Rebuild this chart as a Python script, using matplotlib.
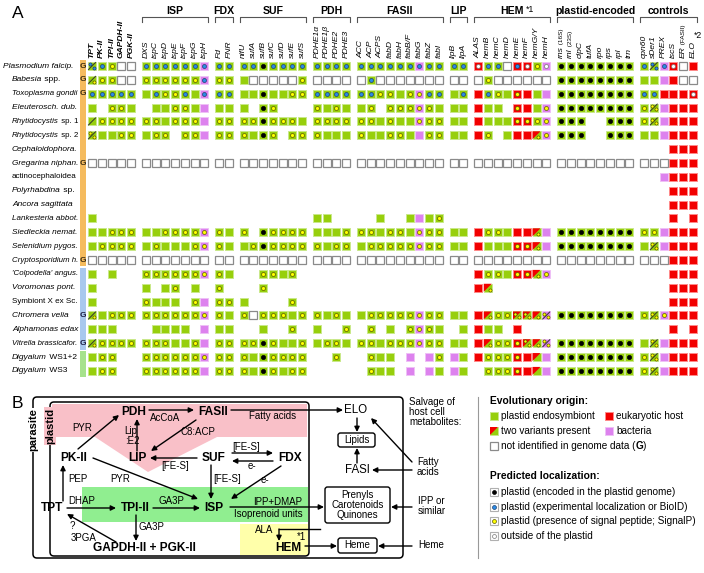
import matplotlib.pyplot as plt
from matplotlib.patches import Rectangle, Polygon, FancyBboxPatch

plt.rcParams['font.family'] = ['Liberation Sans', 'DejaVu Sans']

# ---------------- data (panel A) ----------------
# species label pieces: (text, italic?)
species = [
    [('Plasmodium falcip.', True)],
    [('Babesia', True), (' spp.', False)],
    [('Toxoplasma gondii', True)],
    [('Eleuterosch. dub.', True)],
    [('Rhytidocystis', True), (' sp. 1', False)],
    [('Rhytidocystis', True), (' sp. 2', False)],
    [('Cephaloidophora.', True)],
    [('Gregarina niphan.', True)],
    [('actinocephaloidea', False)],
    [('Polyrhabdina', True), (' sp.', False)],
    [('Ancora sagittata', True)],
    [('Lankesteria abbot.', True)],
    [('Siedleckia nemat.', True)],
    [('Selenidium pygos.', True)],
    [('Cryptosporidium h.', True)],
    [("'Colpodella' angus.", True)],
    [('Voromonas pont.', True)],
    [('Symbiont X ex Sc.', False)],
    [('Chromera velia', True)],
    [('Alphamonas edax', True)],
    [('Vitrella brassicafor.', True)],
    [('Digyalum', True), (' WS1+2', False)],
    [('Digyalum', True), (' WS3', False)],
]
genome = [1, 1, 1, 0, 0, 0, 0, 1, 0, 0, 0, 0, 0, 0, 1, 0, 0, 0, 1, 0, 1, 0, 0]
clade = ['a'] * 15 + ['c'] * 6 + ['s'] * 2

group_names = ['', 'ISP', 'FDX', 'SUF', 'PDH', 'FASII', 'LIP', 'HEM', 'plastid-encoded', 'controls']
genes = [
    ['TPT', 'PK-II', 'TPI-II', 'GAPDH-II', 'PGK-II'],
    ['DXS', 'ispC', 'ispD', 'ispE', 'ispF', 'ispG', 'ispH'],
    ['Fd', 'FNR'],
    ['nifU', 'sufA', 'sufB', 'sufC', 'sufD', 'sufE', 'sufS'],
    ['PDHE1\u03b1', 'PDHE1\u03b2', 'PDHE2', 'PDHE3'],
    ['ACC', 'ACP', 'ACPS', 'fabD', 'fabH', 'fabB/F', 'fabG', 'fabZ', 'fabI'],
    ['lipB', 'lipA'],
    ['ALAS', 'hemB', 'hemC', 'hemD', 'hemE', 'hemF', 'hemG/Y', 'hemH'],
    ['rns', 'rnl', 'clpC', 'tufA', 'rpo', 'rps', 'rpl', 'trn'],
    ['cpn60', 'sDer1', 'PREX', 'iscS', 'ER', 'ELO'],
]
# small suffix drawn after some gene names
gene_suffix = {'rns': ' (16S)', 'rnl': ' (23S)', 'ER': ' (FASII)'}

# cell codes: fill (g plastid, r host, p bacteria, e not found, s two variants, - none)
# + mark (. none, k black, b blue, y yellow, w white, Y/B two copies, L slash+dot, / slash)
rows = [
    "gB gb gy e. e. | gb gb gb gb gb gb pb | gb gb | gb gb gk gb gb gb gb | gb gb gb gb | gb gb gb gb gb gb pb gb gb | gb gb | rw gb gb e. rb rw gy pw | gk gk gk gk gk gk gk gk | gb gB pb rw e. r.",
    "gL gy gy e. e. | gy gy gy gy gy gy pb | gy gy | g. e. e. e. e. e. gy | e. e. e. e. | e. gb e. e. e. e. e. e. e. | e. e. | e. gy e. e. e. e. e. e. | gk gk gk gk gk gk gk gk | g. g. p. r. e. e.",
    "gb gb gb gb gb | g. gb gy gy gb g. pb | gb gb | g. g. gk g. g. gy gy | gb gb gb gb | gb gb gy gy g. gy py gb gb | g. gb | r. gb gy g. ry r. g. p. | gk gk gk gk gk gk gk gk | gb gb r. r. r. rw",
    "g. -- gy gy g. | -- g. g. gy gy g. p. | g. g. | g. -- gk gy -- -- -- | gy g. gy g. | g. gy -- gy gy gy py gy g. | g. g. | r. g. g. -- ry r. g. py | gk gk gk gk gk gk gk gk | gy gY p. r. r. r.",
    "g/ gy gy gy gy | gy gy g. gy gy gy p. | gy gy | gy gy gk gy gy gy g. | gy gy gy gy | gy gy g. gy g. g. py gy gy | g. g. | r. g. g. g. ry ry gy py | gk gk gk -- -- gk gk gk | gy gY p. r. r. r.",
    "gY g. g. gy gy | g. gy gy -- gy gy p. | gy gy | gy g. gk gy -- gy gy | gy g. g. g. | gy g. g. gy gy g. p. gy gy | g. g. | r. gy -- g. r. r. sy py | gk gk gk -- -- gk gk gk | g. g. p. r. r. r.",
    "-- -- -- -- -- | -- -- -- -- -- -- -- | -- -- | -- -- -- -- -- -- -- | -- -- -- -- | -- -- -- -- -- -- -- -- -- | -- -- | -- -- -- -- -- -- -- -- | -- -- -- -- -- -- -- -- | -- -- -- r. r. r.",
    "e. e. e. e. e. | e. e. e. e. e. e. e. | e. e. | e. e. e. e. e. e. e. | e. e. e. e. | e. e. e. e. e. e. e. e. e. | e. e. | e. e. e. e. e. e. e. e. | e. e. e. e. e. e. e. e. | e. e. e. r. r. r.",
    "-- -- -- -- -- | -- -- -- -- -- -- -- | -- -- | -- -- -- -- -- -- -- | -- -- -- -- | -- -- -- -- -- -- -- -- -- | -- -- | -- -- -- -- -- -- -- -- | -- -- -- -- -- -- -- -- | -- -- p. r. r. r.",
    "-- -- -- -- -- | -- -- -- -- -- -- -- | -- -- | -- -- -- -- -- -- -- | -- -- -- -- | -- -- -- -- -- -- -- -- -- | -- -- | -- -- -- -- -- -- -- -- | -- -- -- -- -- -- -- -- | -- -- -- r. r. r.",
    "-- -- -- -- -- | -- -- -- -- -- -- -- | -- -- | -- -- -- -- -- -- -- | -- -- -- -- | -- -- -- -- -- -- -- -- -- | -- -- | -- -- -- -- -- -- -- -- | -- -- -- -- -- -- -- -- | -- -- -- r. r. r.",
    "g. -- -- -- -- | -- -- -- -- -- -- -- | -- -- | -- -- -- -- -- -- -- | g. g. -- -- | -- -- g. -- -- g. p. g. gy | -- -- | -- -- -- -- -- -- -- -- | -- -- -- -- -- -- -- -- | -- -- -- r. -- r.",
    "g. g. gy gy gy | g. g. gy gy gy gy py | gy g. | gy -- gk gy gy gy gy | g. g. g. gy | gy gy g. gy gy g. py gy gy | g. g. | r. gy gy g. r. r. sy p. | gk gk gk gk gk gk gk gk | gy gy p. r. r. r.",
    "g. gy gy gy gy | g. gy g. g. g. gy py | gy g. | g. gy gk gy gy gy gy | gy g. gy gy | g. gy gy gy gy gy py gy gy | g. g. | r. g. g. g. ry ry sy p. | gk gk gk gk gk gk gk gk | g. gY p. r. r. r.",
    "e. e. e. e. e. | e. e. e. e. e. e. e. | e. e. | e. e. e. e. e. e. e. | e. e. e. e. | e. e. e. e. e. e. e. e. e. | e. e. | e. e. e. e. e. e. e. e. | e. e. e. e. e. e. e. e. | e. e. e. r. r. r.",
    "g. -- g. -- -- | gy gy gy gy gy gy py | gy g. | -- -- gy gy g. gy -- | -- -- -- -- | -- -- -- -- -- -- -- -- -- | -- -- | r. gy gy g. ry ry sy py | -- -- -- -- -- -- -- -- | -- -- -- r. r. r.",
    "g. -- -- -- -- | g. -- g. gy -- g. -- | gy -- | -- -- gy -- -- -- -- | -- -- -- -- | -- -- -- -- -- -- -- -- -- | -- -- | r. sy -- -- -- -- -- -- | -- -- -- -- -- -- -- -- | -- -- -- r. r. r.",
    "g. -- -- -- -- | gy g. g. g. -- gy p. | gy gy | g. -- -- -- -- gy -- | -- -- -- -- | -- -- -- -- -- -- -- -- -- | -- -- | -- -- -- -- -- -- -- -- | -- -- -- -- -- -- -- -- | -- -- -- r. r. r.",
    "gL g. gy gy gy | gy gy gy gy gy gy py | gy g. | gy e. gy gy gy g. gy | gy g. gy g. | g. gy gy gy gy gy py gy gy | g. g. | r. sy gy gy sY sY sy pY | gk gk gk gk gk gk gk gk | gy gY py r. r. r.",
    "g. g. g. -- -- | -- g. g. g. g. -- p. | g. g. | -- -- g. -- -- gy -- | g. -- -- gy | -- gy -- g. -- gy py gy g. | -- g. | r. g. g. -- r. -- -- -- | -- -- -- -- -- -- -- -- | -- -- -- r. -- r.",
    "gL gy gy gy gy | gy gy gy g. g. gy p. | gy gy | gy gy gk gy g. g. gy | g. gy gy g. | gy gy g. gy gy gy py gy gy | g. g. | r. sy gy gy ry sY sy pY | gk gk gk gk gk gk gk gk | g. gY p. r. r. r.",
    "g. gy gy -- -- | gy gy gy gy gy gy py | gy gy | gy g. gk gy gy gy gy | -- -- gy -- | -- gy g. g. -- p. -- p. gy | p. g. | r. gy gy gy ry r. s. p. | gk gk gk gk gk gk gk gk | gy gY p. r. r. r.",
    "g. gy gy -- -- | gy gy gy gy gy gy p. | gy gy | gy g. gk gy g. gy gy | -- -- -- -- | -- gy g. g. -- p. -- p. g. | p. g. | -- gy gy gy ry r. s. p. | gk gk gk gk gk gk gk gk | gy gY p. r. r. r.",
]

# ---------------- colours ----------------
GREEN, GREEN_E = '#97cf0c', '#c9e98a'
RED, RED_E = '#f20000', '#ff8a8a'
PURPLE, PURPLE_E = '#dd82ee', '#efc0f6'
DOTS = {'k': ('black', 'black'), 'b': ('#2a8ce8', '#1f3f6a'),
        'y': ('#ffff00', '#5a5a00'), 'w': ('white', '#777777')}
BAR = {'a': '#f5bb5e', 'c': '#a9c8ee', 's': '#a6e28c'}

fig = plt.figure(figsize=(7.04, 5.73), dpi=100)
ax = fig.add_axes([0, 0, 1, 1])
ax.set_xlim(0, 704)
ax.set_ylim(573, 0)
ax.axis('off')
renderer = fig.canvas.get_renderer()

# column / row positions
col_x, col_grp = [], []
k = 0
for gi, g in enumerate(genes):
    for _ in g:
        col_x.append(92 + k * 9.75 + gi * 5)
        col_grp.append(gi)
        k += 1
row_y = [66 + j * 13.86 for j in range(len(rows))]
H = 4


def dot(x, y, c, s=7):
    fc, ec = DOTS[c]
    ax.scatter([x], [y], s=s, c=fc, edgecolors=ec, linewidths=0.5, zorder=6)


def draw_cell(x, y, code):
    fill, mark = code[0], code[1]
    if fill == '-':
        return
    if fill == 'e':
        ax.add_patch(Rectangle((x - H, y - H), 2 * H, 2 * H, fc='white', ec='#8a8a8a', lw=0.9, zorder=3))
    else:
        fc, ec = {'g': (GREEN, GREEN_E), 'r': (RED, RED_E), 'p': (PURPLE, PURPLE_E),
                  's': (GREEN, GREEN_E)}[fill]
        ax.add_patch(Rectangle((x - H, y - H), 2 * H, 2 * H, fc=fc, ec=ec, lw=0.7, zorder=3))
        if fill == 's':
            ax.add_patch(Polygon([(x - H, y - H), (x + H, y - H), (x - H, y + H)], closed=True,
                                 fc=RED, ec='none', zorder=4))
    if mark in 'kbyw' and mark != '.':
        if fill == 's':
            dot(x + 1.8, y + 1.8, mark, 5)
        else:
            dot(x, y, mark, 9 if mark == 'k' else 8)
    elif mark in 'YBL/':
        if fill != 's':
            ax.plot([x - H + 0.5, x + H - 0.5], [y + H - 0.5, y - H + 0.5], color='#333333', lw=0.7, zorder=5)
        c = 'b' if mark == 'B' else 'y'
        if mark in 'YB':
            dot(x - 1.9, y - 1.9, c, 5)
            dot(x + 1.9, y + 1.9, c, 5)
        elif mark == 'L':
            dot(x + 1.9, y + 1.9, c, 5)


def text_run(x, y, parts, rot=0, **kw):
    # draws text parts one after another (left to right, or upwards when rotated)
    made = []
    for s, props in parts:
        if rot == 0:
            t = ax.text(x, y, s, ha='left', va='center', **props, **kw)
            x += t.get_window_extent(renderer).width
        else:
            t = ax.text(x, y, s, ha='center', va='bottom', rotation=90, **props, **kw)
            y -= t.get_window_extent(renderer).height
        made.append(t)
    return x, y, made


# ---- panel A ----
ax.text(12, 14, 'A', fontsize=12.5, va='center', ha='left')

# species names (shrunk if they would run into the bar)
for j, parts in enumerate(species):
    x0 = 3 if j == 0 else 12
    fs = 6.0
    xe, _, made = text_run(x0, row_y[j], [(s, dict(fontsize=fs, style='italic' if it else 'normal')) for s, it in parts])
    if xe > 78:
        for t in made:
            t.remove()
        fs = fs * (78 - x0) / (xe - x0)
        text_run(x0, row_y[j], [(s, dict(fontsize=fs, style='italic' if it else 'normal')) for s, it in parts])

# coloured clade bar with G markers
j = 0
while j < len(clade):
    j2 = j
    while j2 + 1 < len(clade) and clade[j2 + 1] == clade[j]:
        j2 += 1
    ax.add_patch(Rectangle((80, row_y[j] - 6.3), 6, row_y[j2] - row_y[j] + 12.6,
                           fc=BAR[clade[j]], ec='none', zorder=2))
    j = j2 + 1
for j, gflag in enumerate(genome):
    if gflag:
        ax.text(83, row_y[j], 'G', fontsize=6, fontweight='bold', ha='center', va='center',
                color='#1a1a40' if clade[j] == 'c' else '#3a2a10', zorder=5)

# cells
for j, r in enumerate(rows):
    codes = r.replace('|', ' ').split()
    for i, code in enumerate(codes):
        draw_cell(col_x[i], row_y[j], code)

# column headers
k = 0
for gi, g in enumerate(genes):
    for name in g:
        props = dict(fontsize=6.1, style='italic')
        if gi == 0:
            props['fontweight'] = 'bold'
        parts = [(name, props)]
        if name in gene_suffix:
            parts.append((gene_suffix[name], dict(fontsize=4.6)))
        xe, ye, _ = text_run(col_x[k], 57.5, parts, rot=90)
        if name == 'ELO':
            ax.text(col_x[k] + 5, ye - 1, '*2', fontsize=6.3, ha='center', va='bottom', rotation=0)
        k += 1

# group brackets
for gi, gname in enumerate(group_names):
    if not gname:
        continue
    xs = [col_x[i] for i in range(len(col_x)) if col_grp[i] == gi]
    x1, x2 = xs[0] - 4, xs[-1] + 4
    ax.plot([x1, x1, x2, x2], [21.5, 17, 17, 21.5], color='#555555', lw=0.8)
    t = ax.text((x1 + x2) / 2, 10.5, gname, fontsize=7.6, fontweight='bold', ha='center', va='center')
    if gname == 'HEM':
        bb = t.get_window_extent(renderer)
        ax.text(bb.x1 + 2, 9, '*1', fontsize=6.3, ha='left', va='center')

# ---- panel B ----
ax.text(12, 404, 'B', fontsize=12.5, va='center', ha='left')

# shaded regions
ax.add_patch(Polygon([(52, 404), (307, 404), (307, 437), (217, 437), (148, 472), (95, 437), (52, 437)],
                     closed=True, fc='#f9c0c8', ec='none', zorder=1))
ax.add_patch(Rectangle((82, 487), 226, 35, fc='#90ee90', ec='none', zorder=1))
ax.add_patch(Rectangle((240, 524), 68, 31, fc='#ffffaa', ec='none', zorder=1))

# compartments
ax.add_patch(FancyBboxPatch((33, 397), 370, 161, boxstyle='round,pad=0,rounding_size=4',
                            fc='none', ec='black', lw=1.1, zorder=2))
ax.add_patch(FancyBboxPatch((50, 402), 259, 154, boxstyle='round,pad=0,rounding_size=4',
                            fc='none', ec='black', lw=1.1, zorder=2))
ax.text(33, 430, 'parasite', rotation=90, fontsize=8, fontweight='bold', ha='center', va='center',
        bbox=dict(fc='white', ec='none', pad=0.6), zorder=3)
ax.text(50, 426, 'plastid', rotation=90, fontsize=8, fontweight='bold', ha='center', va='center',
        bbox=dict(fc='#f9c0c8', ec='none', pad=0.6), zorder=3)

bold_nodes = [('PDH', 134, 412), ('FASII', 213, 412), ('PK-II', 74, 458), ('LIP', 137, 458),
              ('SUF', 214, 458), ('FDX', 290, 458), ('TPT', 52, 508), ('TPI-II', 135, 508),
              ('ISP', 214, 508), ('GAPDH-II + PGK-II', 144, 548), ('HEM', 288, 548)]
for s, x, y in bold_nodes:
    ax.text(x, y, s, fontsize=8.6, fontweight='bold', ha='center', va='center', zorder=4)

small_labels = [('AcCoA', 165, 418), ('C8:ACP', 198, 432), ('Lip', 131, 431), (':E2', 132, 441),
                ('PYR', 82, 428), ('Fatty acids', 273, 416), ('[FE-S]', 246, 447), ('[FE-S]', 175, 466),
                ('e-', 252, 466), ('PEP', 78, 479), ('PYR', 120, 479), ('[FE-S]', 227, 479),
                ('e-', 265, 480), ('DHAP', 82, 501), ('GA3P', 171, 501), ('IPP+DMAP', 278, 502),
                ('Isoprenoid units', 268, 514), ('?', 72, 526), ('3PGA', 84, 538), ('GA3P', 151, 527),
                ('ALA', 264, 530), ('*1', 301, 537)]
for s, x, y in small_labels:
    ax.text(x, y, s, fontsize=7, ha='center', va='center', zorder=4)

ax.text(356, 410, 'ELO', fontsize=8.3, ha='center', va='center')
ax.text(357, 470, 'FASI', fontsize=8.3, ha='center', va='center')

boxes = [('Lipids', 338, 433, 37, 14), ('Prenyls\nCarotenoids\nQuinones', 325, 487, 65, 36),
         ('Heme', 338, 538, 39, 15)]
for s, x, y, w, h in boxes:
    ax.add_patch(FancyBboxPatch((x, y), w, h, boxstyle='round,pad=0,rounding_size=2.5',
                                fc='white', ec='black', lw=1, zorder=3))
    ax.text(x + w / 2, y + h / 2, s, fontsize=7, ha='center', va='center', linespacing=1.05, zorder=4)

ax.text(409, 397, 'Salvage of\nhost cell\nmetabolites:', fontsize=7, ha='left', va='top', linespacing=1.0)
ax.text(417, 467, 'Fatty\nacids', fontsize=7, ha='left', va='center', linespacing=1.0)
ax.text(418, 506, 'IPP or\nsimilar', fontsize=7, ha='left', va='center', linespacing=1.0)
ax.text(418, 545, 'Heme', fontsize=7, ha='left', va='center')

arrows = [((78, 449), (119, 415)), ((149, 410), (194, 410)), ((231, 410), (343, 410)),
          ((137, 451), (137, 419)), ((196, 420), (151, 451)), ((197, 458), (150, 458)),
          ((232, 453), (273, 453)), ((273, 461), (232, 461)), ((63, 501), (63, 465)),
          ((93, 458), (198, 499)), ((211, 465), (211, 499)), ((281, 466), (231, 499)),
          ((67, 508), (116, 508)), ((153, 508), (200, 508)), ((230, 507), (324, 507)),
          ((136, 515), (136, 541)), ((116, 542), (67, 514)), ((279, 529), (279, 541)),
          ((305, 546), (337, 546)), ((357, 418), (357, 432)), ((357, 463), (357, 448)),
          ((412, 462), (371, 418)), ((412, 470), (372, 470)), ((412, 507), (391, 507)),
          ((412, 546), (378, 546))]
for a, b in arrows:
    ax.annotate('', xy=b, xytext=a, zorder=5,
                arrowprops=dict(arrowstyle='-|>', color='black', lw=1, mutation_scale=7.5,
                                shrinkA=0, shrinkB=0))
ax.plot([320, 279], [529, 529], color='black', lw=1, zorder=5)

# ---- legend ----
ax.plot([478, 478], [397, 558], color='#999999', lw=0.8)
ax.text(490, 401, 'Evolutionary origin:', fontsize=7.4, fontweight='bold', ha='left', va='center')
legend_origin = [('g.', 494, 416, 'plastid endosymbiont'), ('r.', 609, 416, 'eukaryotic host'),
                 ('s.', 494, 431, 'two variants present'), ('p.', 609, 431, 'bacteria'),
                 ('e.', 494, 446, None)]
for code, x, y, s in legend_origin:
    draw_cell(x, y, code)
    if s:
        ax.text(x + 7, y, s, fontsize=7.2, ha='left', va='center')
text_run(501, 446, [('not identified in genome data (', dict(fontsize=7.2)),
                    ('G', dict(fontsize=7.2, fontweight='bold')), (')', dict(fontsize=7.2))])

ax.text(490, 476, 'Predicted localization:', fontsize=7.4, fontweight='bold', ha='left', va='center')
legend_loc = [('k', 'plastid (encoded in the plastid genome)'),
              ('b', 'plastid (experimental localization or BioID)'),
              ('y', 'plastid (presence of signal peptide; SignalP)'),
              ('w', 'outside of the plastid')]
for n, (c, s) in enumerate(legend_loc):
    y = 492 + n * 14.7
    ax.add_patch(Rectangle((490, y - 4), 8, 8, fc='white', ec='#b0b0b0', lw=0.8))
    dot(494, y, c, 8)
    ax.text(501, y, s, fontsize=7.2, ha='left', va='center')

fig.savefig('out.png', dpi=100)
